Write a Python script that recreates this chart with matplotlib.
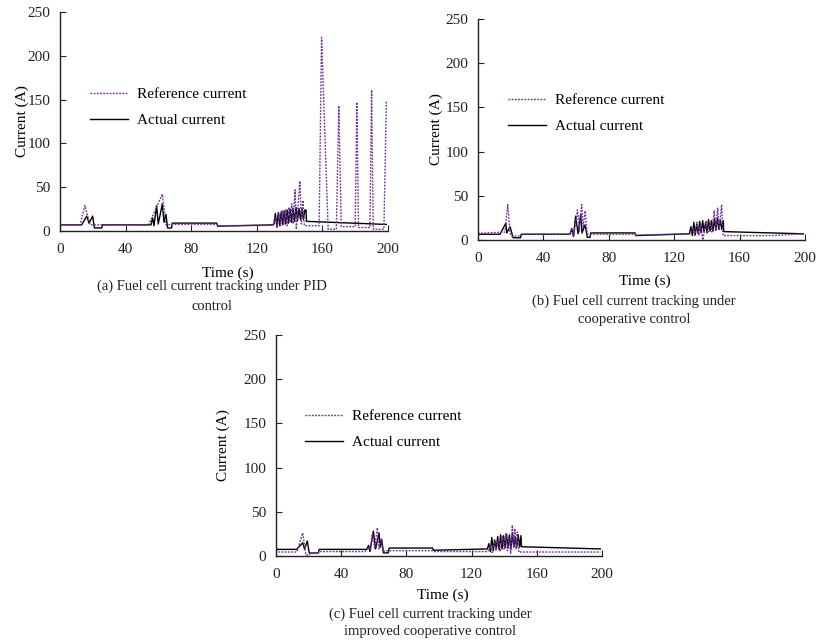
"""
Fuel cell current tracking: PID vs cooperative vs improved cooperative control
"""
import matplotlib.pyplot as plt
import matplotlib as mpl
import numpy as np

mpl.rcParams['font.family'] = ['Liberation Serif', 'DejaVu Serif']
mpl.rcParams['font.size'] = 11

# ========== data ==========
# (a) PID control
pid_ref_t = [0, 12.2, 15.2, 18.3, 54, 62.4, 64.6, 68, 96, 96.5,
             130, 131.5, 132.5, 133.5, 134.5, 135.5, 136.5, 137.5, 138.5, 139.5, 140.5,
             141.3, 142.2, 143.3, 144.1, 145.2, 146.3, 147.2, 148.1, 149, 150,
             158, 159.5, 163.5, 168.5, 170, 171.5, 180, 181, 182, 189, 190, 191, 197.5, 199]
pid_ref = [7, 7, 29, 7, 7, 42, 7, 7.5, 7.5, 6,
           6.5, 16, 4, 20, 6, 23, 8, 25, 6, 27, 10,
           31, 8, 47, 2, 30, 57, 8, 35, 6, 6,
           6, 221, 2, 2, 143, 5, 5, 147, 4, 4, 161, 2, 2, 148]
pid_act_t = [0, 13.2, 16.3, 17.7, 19.9, 21, 25.4, 26, 55.5, 56.5, 57.3, 58.9, 59.9,
             62.4, 63.4, 64.6, 65.6, 68, 68.5, 95.5, 96.2,
             129.5, 130.5, 131.3, 132.2, 133.1, 134, 134.9, 135.8, 136.7, 137.6, 138.5,
             139.4, 140.3, 141.2, 142.1, 143, 143.9, 144.8, 145.7, 146.6, 147.5, 148.4,
             149.3, 150, 150.3, 199]
pid_act = [7, 7, 17, 9, 17, 3.5, 3.5, 7, 7, 15, 6, 29, 8,
           31, 10, 19, 3.5, 3.5, 9, 9, 5.5,
           7, 8, 20, 5, 21, 6, 22, 7, 23, 8, 24,
           9, 25, 10, 26, 11, 27, 12, 26, 13, 25, 13,
           24, 24, 11, 7.5]

# (b) cooperative control
coop_ref_t = [0, 16.5, 18.2, 19.6, 20.5, 26, 26.5, 56, 57.5, 58.6, 60.8, 62, 63.4, 64.3,
              65.5, 66.8, 68.5, 96, 96.5, 130, 131.5, 132.5, 134, 135, 136.2, 137.5,
              139.5, 140.5, 142, 143, 144.5, 145.5, 146.6, 147.6, 149, 149.8, 180, 199]
coop_ref = [7.5, 9, 40, 8, 4.5, 4.5, 6.5, 6.5, 12, 5, 34, 10, 40, 14,
            33, 7, 6.5, 6.5, 5.5, 7, 14, 5, 20, 5, 17, 0,
            22, 8, 20, 9, 33, 12, 36, 12, 40, 5, 5, 7]
coop_act_t = [0, 13.5, 17, 17.6, 19.6, 21.5, 26, 26.5, 56.3, 57.3, 58.4, 59.7, 61.2,
              62.8, 63.6, 65.4, 66.9, 68.5, 69, 96, 96.5,
              129.3, 130.2, 131.1, 132, 132.9, 133.8, 134.7, 135.6, 136.5, 137.4, 138.3,
              139.2, 140.1, 141, 141.9, 142.8, 143.7, 144.6, 145.5, 146.4, 147.3, 148.2,
              149.1, 150, 150.3, 199]
coop_act = [6.5, 6.5, 19, 8, 15, 2.5, 2.5, 6.5, 6.5, 13, 4, 27, 7,
            29, 8, 17, 3, 3, 8, 8, 5,
            7, 15, 5, 20, 6, 18, 7, 21, 8, 22, 9,
            20, 8, 23, 10, 22, 10, 24, 11, 25, 12, 23,
            12, 22, 9.5, 7]

# (c) improved cooperative control
imp_ref_t = [0, 2, 12.7, 16.4, 18.4, 20.4, 21, 26, 26.5, 54.6, 57, 58, 59.1, 60.5,
             62.2, 63.2, 64.5, 66, 68, 96, 96.5, 130, 131.5, 132.5, 134, 135, 136.5,
             137.5, 139, 140, 141, 142, 143, 144, 145, 145.8, 146.5, 147.3, 148, 149,
             150, 199]
imp_ref = [7, 4.5, 4.5, 26, 1, 1, 3.5, 3.5, 5, 5, 10, 7, 25, 9,
           32, 8, 20, 5, 6, 6, 5, 5, 12, 4, 18, 6, 20,
           5, 22, 8, 25, 6, 20, 3, 35, 10, 31, 8, 27, 4,
           4.5, 4.5]
imp_act_t = [0, 12.7, 16.4, 17.5, 19.2, 20.4, 26, 26.5, 55.6, 56.8, 57.6, 59.7, 61.1,
             63.2, 64, 64.8, 65.9, 68.9, 69.4, 96.1, 96.6,
             129.7, 130.6, 131.5, 132.4, 133.3, 134.2, 135.1, 136, 136.9, 137.8, 138.7,
             139.6, 140.5, 141.4, 142.3, 143.2, 144.1, 145, 145.9, 146.8, 147.7, 148.6,
             149.5, 150.3, 150.6, 199]
imp_act = [7.5, 7.5, 15, 8, 17, 3.4, 3.4, 7.5, 7.5, 12, 5, 28, 8,
           26, 10, 19, 3.5, 3.5, 9, 9, 6.5,
           8, 14, 5, 21, 6, 18, 8, 22, 7, 24, 8,
           23, 9, 25, 9, 24, 8, 26, 10, 22, 10, 24,
           10, 23, 10.5, 8]

x_ticks = [0, 40, 80, 120, 160, 200]
y_ticks = [0, 50, 100, 150, 200, 250]

REF_COLOR = '#7030A0'
ACT_COLOR = 'black'

W, H = 816, 641


def px_rect(left, top, right, bottom):
    """pixel box -> figure fraction [l, b, w, h]"""
    return [left / W, 1 - bottom / H, (right - left) / W, (bottom - top) / H]


def draw_panel(ax, ref_t, ref, act_t, act, leg_x, leg_y, ylab_x, xlab_x, xlab_y):
    h_act, = ax.plot(act_t, act, color=ACT_COLOR, lw=1.0, label='Actual current')
    h_ref, = ax.plot(ref_t, ref, color=REF_COLOR, lw=1.0,
                     linestyle=(0, (1.3, 1.0)), label='Reference current')

    ax.set_xlim(0, 200)
    ax.set_ylim(0, 250)
    ax.set_xticks(x_ticks)
    ax.set_yticks(y_ticks)
    ax.tick_params(direction='in', length=4, width=0.8, labelsize=11, colors='#222222')
    ax.tick_params(axis='x', pad=8.5)
    ax.tick_params(axis='y', pad=7)
    for s in ['top', 'right']:
        ax.spines[s].set_visible(False)
    for s in ['left', 'bottom']:
        ax.spines[s].set_linewidth(1.0)
        ax.spines[s].set_color('#222222')

    ax.set_ylabel('Current (A)', fontsize=11)
    ax.yaxis.set_label_coords(ylab_x, 0.5)
    ax.set_xlabel('Time (s)', fontsize=11)
    ax.xaxis.set_label_coords(xlab_x, xlab_y)

    ax.legend(handles=[h_ref, h_act], loc='upper left', bbox_to_anchor=(leg_x, leg_y),
              frameon=False, fontsize=11, handlelength=2.5, handletextpad=0.6,
              labelspacing=0.8, borderpad=0, borderaxespad=0)


fig = plt.figure(figsize=(W / 100, H / 100), dpi=100)

ax_a = fig.add_axes(px_rect(60, 12, 388, 231))
draw_panel(ax_a, pid_ref_t, pid_ref, pid_act_t, pid_act,
           leg_x=0.091, leg_y=0.655, ylab_x=-0.095, xlab_x=0.512, xlab_y=-0.160)

ax_b = fig.add_axes(px_rect(478, 19, 805, 240))
draw_panel(ax_b, coop_ref_t, coop_ref, coop_act_t, coop_act,
           leg_x=0.092, leg_y=0.662, ylab_x=-0.107, xlab_x=0.511, xlab_y=-0.154)

ax_c = fig.add_axes(px_rect(276, 335, 602, 556))
draw_panel(ax_c, imp_ref_t, imp_ref, imp_act_t, imp_act,
           leg_x=0.089, leg_y=0.662, ylab_x=-0.142, xlab_x=0.512, xlab_y=-0.145)

# captions
captions = [
    (212, 286, '(a) Fuel cell current tracking under PID'),
    (212, 306, 'control'),
    (634, 301, '(b) Fuel cell current tracking under'),
    (634, 319, 'cooperative control'),
    (430, 614, '(c) Fuel cell current tracking under'),
    (430, 632, 'improved cooperative control'),
]
for cx, cy, txt in captions:
    fig.text(cx / W, 1 - cy / H, txt, ha='center', va='center', fontsize=10.5,
             color='#222222')

plt.savefig('out.png', dpi=100, facecolor='white')
